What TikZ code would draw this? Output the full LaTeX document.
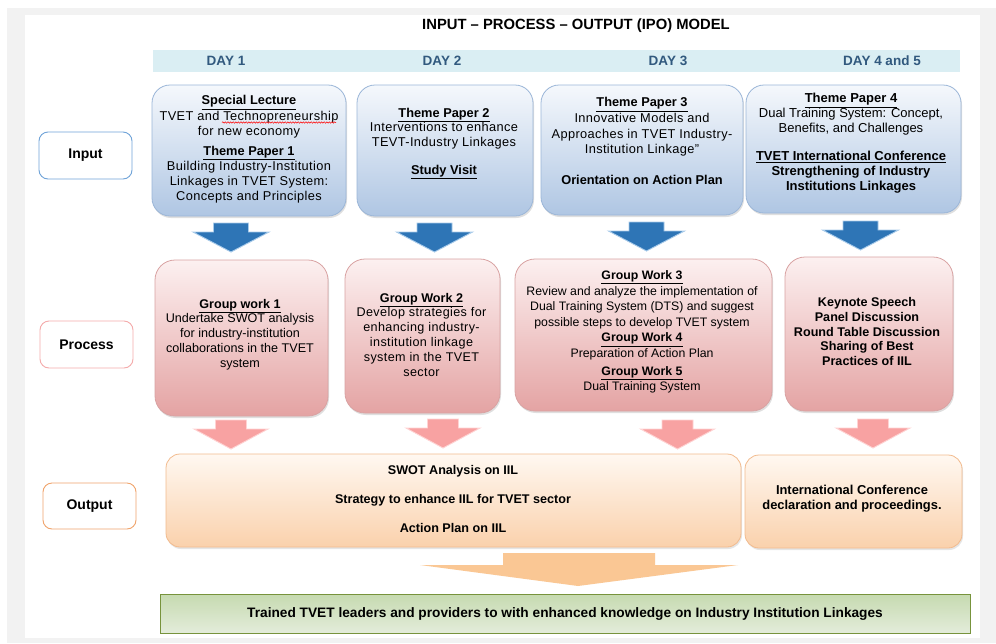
\documentclass[tikz,border=0pt]{standalone}
\usepackage{fontspec}
\setmainfont{Liberation Sans}
\newfontfamily\spacedfont[LetterSpace=3]{Liberation Sans}
\usetikzlibrary{shadows,decorations.pathmorphing}
\definecolor{bggray}{HTML}{F2F2F2}
\definecolor{dayband}{HTML}{DAEEF3}
\definecolor{daytext}{HTML}{31597E}
\definecolor{intop}{HTML}{F5F8FC}
\definecolor{inbot}{HTML}{AFC6E3}
\definecolor{inborder}{HTML}{9BB6D8}
\definecolor{inlabel}{HTML}{6FA3D8}
\definecolor{prtop}{HTML}{FCF0F0}
\definecolor{prbot}{HTML}{E4A3A3}
\definecolor{prborder}{HTML}{D9A3A3}
\definecolor{prlabel}{HTML}{F4AAAA}
\definecolor{outtop}{HTML}{FFF8F1}
\definecolor{outbot}{HTML}{FAD1AC}
\definecolor{outborder}{HTML}{F2BB8E}
\definecolor{outlabel}{HTML}{F0A46C}
\definecolor{arrblue}{HTML}{2E75B6}
\definecolor{arrblueedge}{HTML}{A8CBEA}
\definecolor{arrpink}{HTML}{F8A2A2}
\definecolor{arrpinkedge}{HTML}{FFD3D3}
\definecolor{arrorange}{HTML}{FAC794}
\definecolor{grtop}{HTML}{C6DAB0}
\definecolor{grbot}{HTML}{E3ECDA}
\definecolor{grborder}{HTML}{77933C}
\newcommand\ipohead[1]{{\normalfont\bfseries\underline{#1}}}
\newcommand\ipobold[1]{{\normalfont\bfseries #1}}
\tikzset{
  body/.style={align=center, inner sep=0pt, font=\fontsize{12.6}{14.8}\selectfont},
  inbody/.style={align=center, inner sep=0pt, font=\spacedfont\fontsize{12.8}{15.2}\selectfont},
  boldbody/.style={body, font=\fontsize{12.6}{14.8}\selectfont\bfseries},
  inbox/.style={draw=inborder, line width=0.8pt, rounded corners=18pt, top color=intop, bottom color=inbot,
    drop shadow={opacity=0.25, shadow xshift=1pt, shadow yshift=-2pt}},
  prbox/.style={draw=prborder, line width=0.8pt, rounded corners=20pt, top color=prtop, bottom color=prbot,
    drop shadow={opacity=0.25, shadow xshift=1pt, shadow yshift=-2pt}},
  outbox/.style={draw=outborder, line width=0.8pt, rounded corners=14pt, top color=outtop, bottom color=outbot,
    drop shadow={opacity=0.2, shadow xshift=1pt, shadow yshift=-2pt}},
  sidelabel/.style={rounded corners=9pt, line width=0.9pt, fill=white, minimum width=93pt, minimum height=47pt,
    font=\fontsize{14}{16}\selectfont\bfseries},
  daylabel/.style={font=\fontsize{13.5}{16}\selectfont\bfseries, text=daytext, inner sep=0pt},
  bluearr/.style={fill=arrblue, draw=arrblueedge, line width=0.9pt, line join=miter},
  pinkarr/.style={fill=arrpink, draw=arrpinkedge, line width=0.9pt, line join=miter},
  spellmark/.style={draw=red, line width=0.5pt, decorate, decoration={snake, amplitude=0.7pt, segment length=2.6pt}},
  pics/bluearrow/.style={code={\path[bluearr] (-17.5,0) -- (17.5,0) -- (17.5,9) -- (38,9) -- (0,29) -- (-38,9) -- (-17.5,9) -- cycle;}},
  pics/pinkarrow/.style={code={\path[pinkarr] (-15.5,0) -- (15.5,0) -- (15.5,9) -- (37,9) -- (0,29) -- (-37,9) -- (-15.5,9) -- cycle;}},
}
\begin{document}
\begin{tikzpicture}[x=1pt,y=-1pt]
\useasboundingbox (0,0) rectangle (996,643);
\fill[white] (0,0) rectangle (996,643);
\fill[bggray] (7,8) rectangle (996,643);
\fill[white] (25,15) rectangle (980,638);

% title
\node[font=\fontsize{14.8}{17}\selectfont\bfseries, inner sep=0pt] (title) at (576,26) {INPUT – PROCESS – OUTPUT (IPO) MODEL};

% day band
\fill[dayband] (153,50) rectangle (960,72);
\node[daylabel] (d1) at (226,61) {DAY 1};
\node[daylabel] (d2) at (442,61) {DAY 2};
\node[daylabel] (d3) at (668,61) {DAY 3};
\node[daylabel] (d4) at (882,61) {DAY 4 and 5};

% side labels
\node[sidelabel, draw=inlabel] (lin) at (85.5,155.5) {Input};
\node[sidelabel, draw=prlabel] (lpr) at (86.5,344.5) {Process};
\node[sidelabel, draw=outlabel, minimum height=46pt] (lout) at (89.5,506) {Output};

% input boxes
\node[inbox, minimum width=194pt, minimum height=131pt] (in1) at (249,150.5) {};
\node[inbox, minimum width=176pt, minimum height=131pt] (in2) at (445,150.5) {};
\node[inbox, minimum width=202pt, minimum height=130pt] (in3) at (642,150) {};
\node[inbox, minimum width=215pt, minimum height=128pt] (in4) at (853.5,149) {};

\node[inbody] (tin1) at (249,149.5) {\ipohead{Special Lecture}\\
TVET and Technopreneurship\\
for new economy\\[4.5pt]
\ipohead{Theme Paper 1}\\
Building Industry-Institution\\
Linkages in TVET System:\\
Concepts and Principles};
\coordinate (sp1) at (222,122.5);
\coordinate (sp2) at (336,122.5);
\path[spellmark] (sp1) -- (sp2);
\node[inbody, font=\spacedfont\fontsize{12.8}{14.5}\selectfont] (tin2) at (444,143.5) {\ipohead{Theme Paper 2}\\
Interventions to enhance\\
TEVT-Industry Linkages\\[14pt]
\ipohead{Study Visit}};
\node[inbody, font=\spacedfont\fontsize{12.8}{15.6}\selectfont] (tin3) at (642,141) {\ipohead{Theme Paper 3}\\
Innovative Models and\\
Approaches in TVET Industry-\\
Institution Linkage”\\[15pt]
\ipobold{Orientation on Action Plan}};
\node[inbody, font=\fontsize{13}{15}\selectfont] (tin4) at (851,143.5) {\ipohead{Theme Paper 4}\\
Dual Training System: Concept,\\
Benefits, and Challenges\\[13pt]
\ipohead{TVET International Conference}\\
\ipobold{Strengthening of Industry}\\
\ipobold{Institutions Linkages}};

% blue arrows
\pic (ba1) at (231,223) {bluearrow};
\pic (ba2) at (434.5,223) {bluearrow};
\pic (ba3) at (646.5,222) {bluearrow};
\pic (ba4) at (860.5,221) {bluearrow};

% process boxes
\node[prbox, minimum width=173pt, minimum height=156pt] (pr1) at (241.5,338) {};
\node[prbox, minimum width=155pt, minimum height=154pt] (pr2) at (422.5,336) {};
\node[prbox, minimum width=257pt, minimum height=152pt] (pr3) at (643.5,335) {};
\node[prbox, minimum width=168pt, minimum height=154pt] (pr4) at (869,334) {};

\node[body] (tpr1) at (240,334.5) {\ipohead{Group work 1}\\
Undertake SWOT analysis\\
for industry-institution\\
collaborations in the TVET\\
system};
\node[inbody, font=\spacedfont\fontsize{12.6}{14.8}\selectfont] (tpr2) at (421.5,334.5) {\ipohead{Group Work 2}\\
Develop strategies for\\
enhancing industry-\\
institution linkage\\
system in the TVET\\
sector};
\node[body, font=\fontsize{12.3}{15.6}\selectfont] (tpr3) at (642,332) {\ipohead{Group Work 3}\\
Review and analyze the implementation of\\
Dual Training System (DTS) and suggest\\
possible steps to develop TVET system\\
\ipohead{Group Work 4}\\
Preparation of Action Plan\\[2pt]
\ipohead{Group Work 5}\\
Dual Training System};
\node[boldbody] (tpr4) at (867,331.5) {Keynote Speech\\
Panel Discussion\\
Round Table Discussion\\
Sharing of Best\\
Practices of IIL};

% pink arrows
\pic (pa1) at (231,420) {pinkarrow};
\pic (pa2) at (443,419) {pinkarrow};
\pic (pa3) at (677.5,420) {pinkarrow};
\pic (pa4) at (873,419) {pinkarrow};

% output boxes
\node[outbox, minimum width=575pt, minimum height=93pt] (out1) at (453.5,500.5) {};
\node[outbox, minimum width=217pt, minimum height=93pt] (out2) at (853.5,501.5) {};
\node[boldbody] (tout1) at (453,499) {SWOT Analysis on IIL\\[14pt]
Strategy to enhance IIL for TVET sector\\[14pt]
Action Plan on IIL};
\node[boldbody, font=\fontsize{12.9}{15}\selectfont\bfseries] (tout2) at (852,498.5) {International Conference\\
declaration and proceedings.};

% big orange arrow
\fill[arrorange] (503,553) -- (655,553) -- (655,565) -- (738,565) -- (578,586) -- (420,565) -- (503,565) -- cycle;

% green result box
\node[draw=grborder, line width=1pt, top color=grtop, bottom color=grbot, minimum width=810pt, minimum height=39pt,
  font=\fontsize{13.7}{15}\selectfont\bfseries] (res) at (565,613.5) {Trained TVET leaders and providers to with enhanced knowledge on Industry Institution Linkages};
\end{tikzpicture}
\end{document}
